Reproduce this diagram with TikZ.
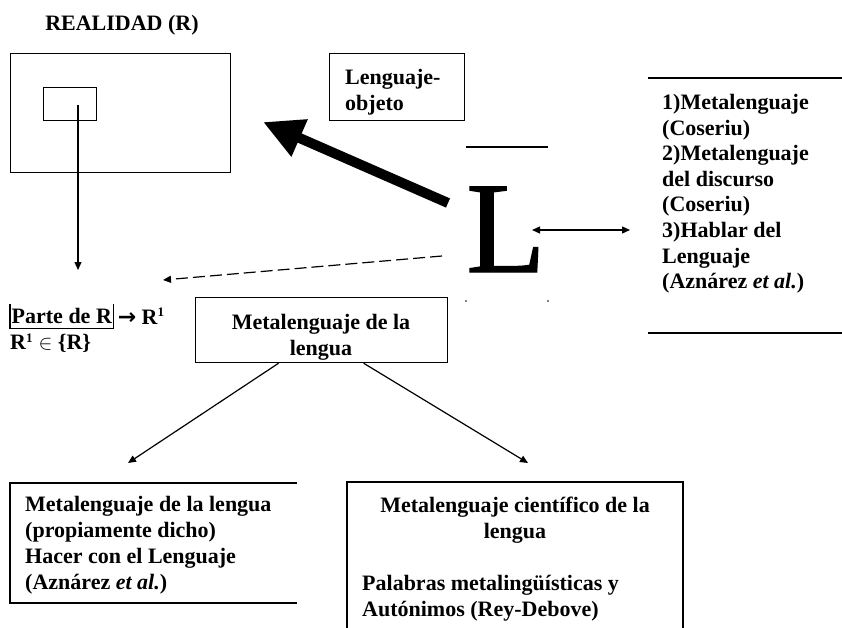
\documentclass[tikz,border=0pt]{standalone}
\usepackage{fontspec}
\setmainfont{Liberation Serif}
\newfontfamily\arrowfont{DejaVu Sans}
\newfontfamily\bigletter[FakeBold=1]{Liberation Serif}
\usetikzlibrary{arrows.meta}

\begin{document}
\begin{tikzpicture}[x=1pt,y=-1pt,
  lbl/.style={font=\fontsize{22}{26}\selectfont\bfseries, inner sep=0pt, align=left},
  lbltight/.style={lbl, font=\fontsize{22}{25.6}\selectfont\bfseries},
  frame/.style={draw, line width=1.2pt, inner sep=0pt},
  conn/.style={line width=1.2pt},
  tip/.style={-{Triangle[length=8pt,width=7pt]}},
  bothtips/.style={{Triangle[length=8pt,width=7pt]}-{Triangle[length=8pt,width=7pt]}},
  heavy/.style={line width=10pt, -{Triangle[length=40pt,width=38pt]}},
]
\useasboundingbox (0,0) rectangle (842,628);

% Reality and the selected part of it
\node[lbl, anchor=center] (realidad) at (122,25) {REALIDAD (R)};
\node[frame, anchor=north west, minimum width=220pt, minimum height=119pt] (rbox) at (10,53) {};
\node[frame, anchor=north west, minimum width=53pt, minimum height=33pt] (part) at (43,87) {};
\coordinate (partsrc) at (78,105);
\coordinate (partdst) at (78,270);
\draw[conn, tip] (partsrc) -- (partdst);

% Object language
\node[frame, anchor=north west, minimum width=135pt, minimum height=67pt] (lobj) at (329,53) {};
\node[lbl, anchor=north west] (lobjtxt) at (345,69) {Lenguaje-\\objeto};

% The big letter L with its rules
\node[font=\bigletter\fontsize{130}{130}\selectfont, inner sep=0pt, anchor=base west] (L) at (466,272) {L};
\draw[conn] (466,147) -- (548,147);
\fill (466,301) circle (0.8pt);
\fill (548,301) circle (0.8pt);

% Heavy arrow from L to reality
\coordinate (heavysrc) at (448,203);
\coordinate (heavydst) at (263,122);
\draw[heavy] (heavysrc) -- (heavydst);

% Dashed arrow from L to the part of R
\coordinate (dashsrc) at (442,256);
\coordinate (dashdst) at (163,280);
\draw[conn, dash pattern=on 12pt off 5pt, tip] (dashsrc) -- (dashdst);

% Metalanguage list on the right
\coordinate (dblL) at (532,230);
\coordinate (dblR) at (630,230);
\draw[conn, bothtips] (dblL) -- (dblR);
\draw[conn] (648,78) -- (842,78);
\draw[conn] (648,333) -- (842,333);
\node[lbltight, anchor=north west] (coseriu) at (662,94)
  {1)Metalenguaje\\(Coseriu)\\2)Metalenguaje\\del discurso\\(Coseriu)\\3)Hablar del\\Lenguaje\\(Azn\'arez \textit{et al.})};

% Part of R
\node[lbl, anchor=west, inner xsep=1.5pt, minimum height=24pt] (parte) at (10,316) {Parte de R};
\draw[conn] (parte.north west) -- (parte.south west) -- (parte.south east) -- (parte.north east);
\node[lbl, anchor=west] (rone) at ([xshift=4pt]parte.east) {{\arrowfont →} R\textsuperscript{\fontsize{13}{13}\selectfont 1}};
\node[lbl, anchor=west] (rin) at (10,343) {R\textsuperscript{\fontsize{13}{13}\selectfont 1} $\in$ \{R\}};

% Metalanguage of the language
\node[frame, anchor=north west, minimum width=252pt, minimum height=65pt] (mlbox) at (195,297) {};
\node[lbl, align=center, anchor=north] (mltxt) at (321,314) {Metalenguaje de la\\lengua};
\coordinate (leftdst) at (128,463);
\coordinate (rightdst) at (528,463);
\draw[conn, tip] ([xshift=-43pt]mlbox.south) -- (leftdst);
\draw[conn, tip] ([xshift=42pt]mlbox.south) -- (rightdst);

% Metalanguage proper
\draw[conn] (297,483) -- (10,483) -- (10,603) -- (297,603);
\node[lbl, anchor=north west] (mlprop) at (25,496)
  {Metalenguaje de la lengua\\(propiamente dicho)\\Hacer con el Lenguaje\\(Azn\'arez \textit{et al.})};

% Scientific metalanguage
\draw[conn] (347,628) -- (347,482) -- (683,482) -- (683,628);
\node[lbl, align=center, anchor=north] (mlcien) at (515,497) {Metalenguaje cient\'ifico de la\\lengua};
\node[lbl, anchor=north west] (palabras) at (362,575) {Palabras meta\-ling\"u\'isticas y\\Aut\'onimos (Rey-Debove)};
\end{tikzpicture}
\end{document}
